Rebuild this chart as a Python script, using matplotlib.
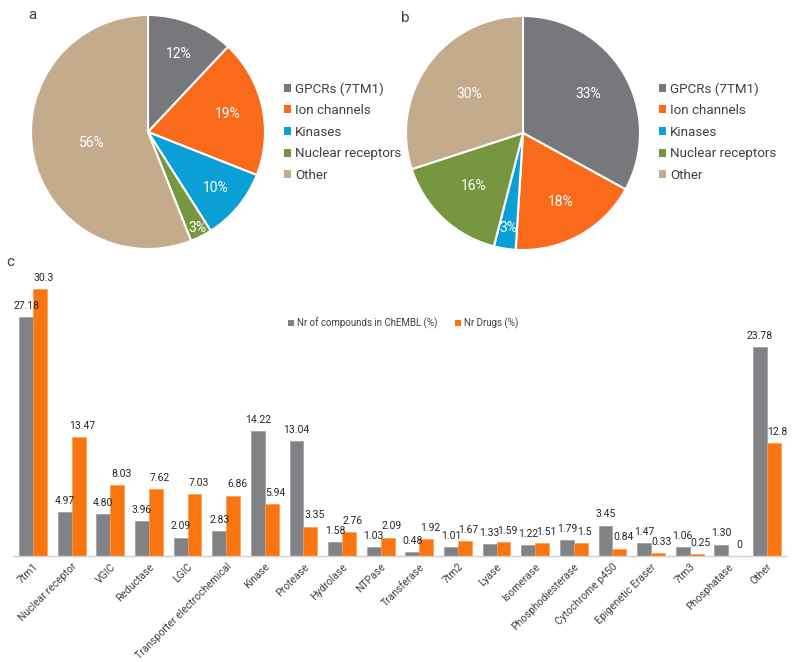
import matplotlib
matplotlib.use("Agg")
import matplotlib.pyplot as plt
import numpy as np
from matplotlib.patches import Patch

plt.rcParams['font.family'] = ['Roboto', 'DejaVu Sans']

# ---- data ----
pie_labels = ["GPCRs (7TM1)", "Ion channels", "Kinases", "Nuclear receptors", "Other"]
pie_a_values = [12, 19, 10, 3, 56]
pie_b_values = [33, 18, 3, 16, 30]
pie_colors = ["#77787B", "#F96B1B", "#0AA0D6", "#76973F", "#C3AB8C"]

bar_categories = ["7tm1", "Nuclear receptor", "VGIC", "Reductase", "LGIC",
                  "Transporter electrochemical", "Kinase", "Protease", "Hydrolase",
                  "NTPase", "Transferase", "7tm2", "Lyase", "Isomerase",
                  "Phosphodiesterase", "Cytochrome p450", "Epigenetic Eraser",
                  "7tm3", "Phosphatase", "Other"]
chembl_values = [27.18, 4.97, 4.80, 3.96, 2.09, 2.83, 14.22, 13.04, 1.58, 1.03,
                 0.48, 1.01, 1.33, 1.22, 1.79, 3.45, 1.47, 1.06, 1.30, 23.78]
chembl_labels = ["27.18", "4.97", "4.80", "3.96", "2.09", "2.83", "14.22", "13.04",
                 "1.58", "1.03", "0.48", "1.01", "1.33", "1.22", "1.79", "3.45",
                 "1.47", "1.06", "1.30", "23.78"]
drug_values = [30.3, 13.47, 8.03, 7.62, 7.03, 6.86, 5.94, 3.35, 2.76, 2.09,
               1.92, 1.67, 1.59, 1.51, 1.5, 0.84, 0.33, 0.25, 0, 12.8]
drug_labels = ["30.3", "13.47", "8.03", "7.62", "7.03", "6.86", "5.94", "3.35",
               "2.76", "2.09", "1.92", "1.67", "1.59", "1.51", "1.5", "0.84",
               "0.33", "0.25", "0", "12.8"]
series_names = ["Nr of compounds in ChEMBL (%)", "Nr Drugs (%)"]

W, H = 800, 662
fig = plt.figure(figsize=(8, 6.62), dpi=100)
fig.patch.set_facecolor("white")


def px_axes(cx, cy, r):
    return fig.add_axes([(cx - r) / W, 1 - (cy + r) / H, 2 * r / W, 2 * r / H])


def draw_pie(ax, values, dists):
    wedges, _ = ax.pie(values, colors=pie_colors, startangle=90, counterclock=False,
                       radius=1.0, wedgeprops=dict(edgecolor="white", linewidth=1.5))
    total = sum(values)
    cum = 0
    for v, d in zip(values, dists):
        mid = 90 - (cum + v / 2) / total * 360
        cum += v
        ang = np.deg2rad(mid)
        ax.text(d * np.cos(ang), d * np.sin(ang), f"{v}%", ha="center", va="center",
                color="white", fontsize=10)
    ax.set_xlim(-1, 1)
    ax.set_ylim(-1, 1)
    return wedges


ax_a = px_axes(148, 132, 117)
wa = draw_pie(ax_a, pie_a_values, [0.72, 0.70, 0.75, 0.92, 0.49])
ax_b = px_axes(523, 133, 117)
wb = draw_pie(ax_b, pie_b_values, [0.65, 0.67, 0.82, 0.62, 0.57])

for xpos, wedges in [(277, wa), (652, wb)]:
    handles = [Patch(facecolor=c, edgecolor="none") for c in pie_colors]
    fig.legend(handles, pie_labels, loc="center left",
               bbox_to_anchor=(xpos / W, 1 - 132 / H), frameon=False,
               fontsize=9.6, handlelength=0.55, handleheight=0.55,
               handletextpad=0.3, labelspacing=0.64, borderpad=0,
               labelcolor="#404040")

fig.text(32 / W, 1 - 15 / H, "a", fontsize=11, ha="center", va="center", color="#404040")
fig.text(405 / W, 1 - 18 / H, "b", fontsize=11, ha="center", va="center", color="#404040")
fig.text(10 / W, 1 - 262 / H, "c", fontsize=11, ha="center", va="center", color="#404040")

# ---- bar chart ----
ax = fig.add_axes([13 / W, 1 - 556 / H, (787 - 13) / W, (556 - 270) / H])
x = np.arange(len(bar_categories))
bw = 0.36
gray = "#818285"
orange = "#F97510"
ax.bar(x - bw / 2, chembl_values, bw, color=gray, edgecolor="#9A9B9D", linewidth=0.5)
ax.bar(x + bw / 2, drug_values, bw, color=orange, edgecolor="#FF9A4A", linewidth=0.5)
for i in range(len(x)):
    ax.text(x[i] - bw / 2, chembl_values[i] + 0.7, chembl_labels[i], ha="center",
            va="bottom", fontsize=7.5, color="#262626")
    ax.text(x[i] + bw / 2 + 0.1, drug_values[i] + 0.7, drug_labels[i], ha="center",
            va="bottom", fontsize=7.5, color="#262626")
ax.set_xlim(-0.52, len(x) - 0.48)
ax.set_ylim(0, 32.5)
ax.set_yticks([])
for s in ["top", "right", "left"]:
    ax.spines[s].set_visible(False)
ax.spines["bottom"].set_color("#D0D0D0")
ax.spines["bottom"].set_linewidth(1.0)
ax.set_xticks(x)
ax.set_xticklabels(bar_categories, rotation=45, ha="right", rotation_mode="anchor",
                   fontsize=7.5, color="#404040")
ax.tick_params(axis="x", length=0, pad=4)

bh = [Patch(facecolor=gray), Patch(facecolor=orange)]
fig.legend(bh, series_names, loc="center", bbox_to_anchor=(403 / W, 1 - 323 / H),
           ncol=2, frameon=False, fontsize=7, handlelength=0.6, handleheight=0.6,
           handletextpad=0.3, columnspacing=1.8, labelcolor="#404040")

fig.savefig("out.png", dpi=100, facecolor="white")
